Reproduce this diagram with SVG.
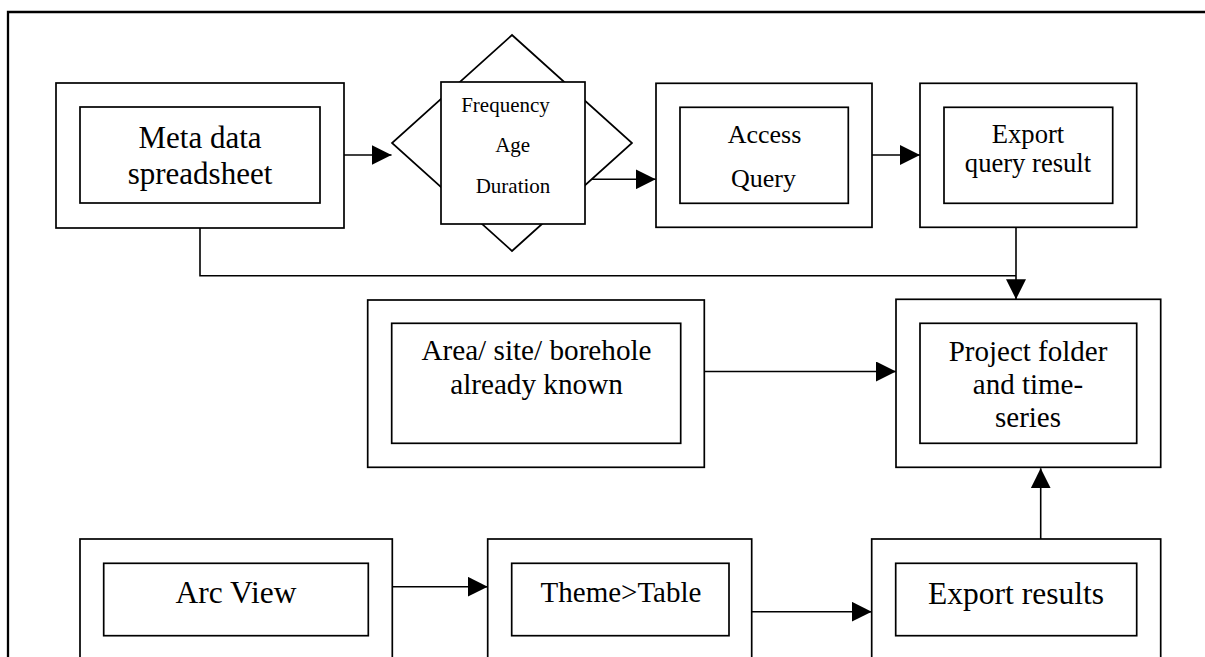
<svg xmlns="http://www.w3.org/2000/svg" width="1205" height="657" viewBox="0 0 1205 657">
<style>
.box{fill:#fff;stroke:#000;stroke-width:1.7}
.ln{fill:none;stroke:#000;stroke-width:1.6}
.t{font-family:"Liberation Serif","Times New Roman",serif;fill:#000;text-anchor:middle}
</style>
<defs>
<marker id="ah" markerUnits="userSpaceOnUse" markerWidth="21" markerHeight="20" refX="20" refY="10" orient="auto">
<path d="M0,0 L20,10 L0,20 Z" fill="#000"/>
</marker>
</defs>
<rect width="1205" height="657" fill="#fff"/>
<path d="M8,670 L8,12 L1210,12" fill="none" stroke="#000" stroke-width="2.3"/>

<g id="connectors">
<path class="ln" d="M344,155 L391.5,155" marker-end="url(#ah)"/>
<path class="ln" d="M583,179.3 L655.7,179.3" marker-end="url(#ah)"/>
<path class="ln" d="M872,155 L920,155" marker-end="url(#ah)"/>
<path class="ln" d="M200,228 L200,275.7 L1016,275.7"/>
<path class="ln" d="M1016,227.3 L1016,299.3" marker-end="url(#ah)"/>
<path class="ln" d="M704,371.5 L896,371.5" marker-end="url(#ah)"/>
<path class="ln" d="M392,586.7 L487.7,586.7" marker-end="url(#ah)"/>
<path class="ln" d="M751.7,611.7 L871.7,611.7" marker-end="url(#ah)"/>
<path class="ln" d="M1040.7,539 L1040.7,468.3" marker-end="url(#ah)"/>
</g>

<g id="meta">
<rect class="box" x="56" y="83" width="288" height="145"/>
<rect class="box" x="80" y="107" width="240" height="96"/>
<text class="t" font-size="31" x="200" y="148">Meta data</text>
<text class="t" font-size="31" x="200" y="184">spreadsheet</text>
</g>

<g id="decision">
<polygon class="box" points="512,35 632,143 512,251 392,143"/>
<rect class="box" x="441" y="82" width="144" height="142"/>
<text class="t" font-size="21" x="505.5" y="112">Frequency</text>
<text class="t" font-size="21" x="512.7" y="152">Age</text>
<text class="t" font-size="21" x="513" y="193">Duration</text>
</g>

<g id="access">
<rect class="box" x="656" y="83.3" width="216" height="144"/>
<rect class="box" x="680" y="107.3" width="168.3" height="96"/>
<text class="t" font-size="26" x="764.5" y="143">Access</text>
<text class="t" font-size="26" x="763.5" y="186.7">Query</text>
</g>

<g id="export-query">
<rect class="box" x="920" y="83.3" width="216.7" height="144"/>
<rect class="box" x="944" y="107.3" width="168.7" height="96"/>
<text class="t" font-size="26.6" x="1028" y="143.3">Export</text>
<text class="t" font-size="26.6" x="1028" y="171.7">query result</text>
</g>

<g id="area">
<rect class="box" x="367.7" y="300" width="336.6" height="167.3"/>
<rect class="box" x="391.7" y="323.3" width="289" height="120"/>
<text class="t" font-size="29.2" x="536.5" y="360">Area/ site/ borehole</text>
<text class="t" font-size="29.2" x="536.5" y="394.3">already known</text>
</g>

<g id="project">
<rect class="box" x="896" y="299.3" width="264.7" height="168"/>
<rect class="box" x="920" y="323.3" width="216.7" height="120"/>
<text class="t" font-size="29" x="1028" y="360.7">Project folder</text>
<text class="t" font-size="29" x="1028" y="394">and time-</text>
<text class="t" font-size="29" x="1028" y="427.3">series</text>
</g>

<g id="arcview">
<rect class="box" x="80" y="539" width="312.3" height="140"/>
<rect class="box" x="103.7" y="563.3" width="264.6" height="72.4"/>
<text class="t" font-size="31.5" x="236" y="603.3">Arc View</text>
</g>

<g id="theme">
<rect class="box" x="487.7" y="539" width="264" height="140"/>
<rect class="box" x="511.7" y="563.3" width="217.3" height="72.4"/>
<text class="t" font-size="29" x="621" y="601.7">Theme&gt;Table</text>
</g>

<g id="export-results">
<rect class="box" x="871.7" y="539" width="289" height="140"/>
<rect class="box" x="895.7" y="563.3" width="241" height="72.4"/>
<text class="t" font-size="31.5" x="1016" y="604">Export results</text>
</g>
</svg>
